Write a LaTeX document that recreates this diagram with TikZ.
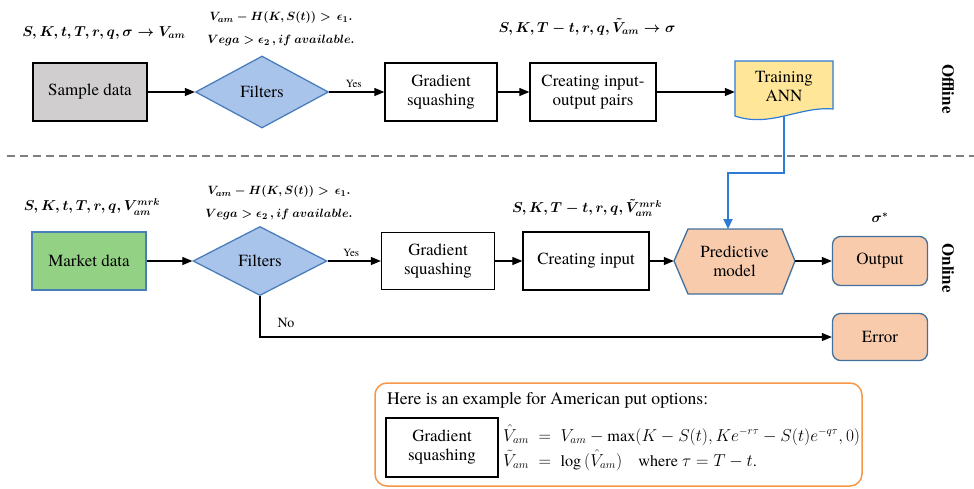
\documentclass[tikz,border=0pt]{standalone}
\usepackage{fontspec}
\setmainfont{TeX Gyre Termes}
\newfontfamily\tnr{TeX Gyre Termes}
\usetikzlibrary{arrows.meta,shapes.geometric}
\definecolor{grayfill}{HTML}{D0CECE}
\definecolor{dfill}{HTML}{A9C4EB}
\definecolor{dborder}{HTML}{4A7EBB}
\definecolor{greenfill}{HTML}{93D284}
\definecolor{yfill}{HTML}{FFE699}
\definecolor{peach}{HTML}{F8CBAD}
\definecolor{pborder}{HTML}{41719C}
\definecolor{oframe}{HTML}{F79646}
\definecolor{bconn}{HTML}{2E7BD6}
\definecolor{dashgray}{HTML}{7F7F7F}
\tikzset{
  txt/.style={font=\tnr\fontsize{17}{19}\selectfont, align=center, inner sep=0pt},
  plainbox/.style={txt, draw=black, fill=white, line width=1.3pt},
  graybox/.style={txt, draw=black, fill=grayfill, line width=1.3pt},
  greenbox/.style={txt, draw=dborder, fill=greenfill, line width=1.3pt},
  filt/.style={txt, diamond, draw=dborder, fill=dfill, line width=1.3pt, minimum width=133, minimum height=72},
  peachbox/.style={txt, draw=pborder, fill=peach, line width=1.3pt, rounded corners=8pt},
  arr/.style={line width=1.2pt, -{Triangle[length=10pt,width=8pt]}},
  barr/.style={draw=bconn, line width=2pt, -{Triangle[length=10pt,width=9pt]}, color=bconn},
  mlab/.style={font=\fontsize{14}{17}\selectfont\boldmath, inner sep=0pt, align=center},
  clab/.style={font=\fontsize{12.5}{23}\selectfont\boldmath, inner sep=0pt, align=center},
  side/.style={font=\tnr\fontsize{17}{19}\selectfont\bfseries, rotate=-90, inner sep=0pt},
  small/.style={font=\tnr\fontsize{11}{12}\selectfont, inner sep=0pt}
}
\begin{document}
\begin{tikzpicture}[x=1pt,y=-1pt]
\useasboundingbox (0,0) rectangle (974,488);
% dashed divider
\draw[dashgray, line width=1.2pt, dash pattern=on 8pt off 5pt] (7,156) -- (974,156);

% ---------- Offline row ----------
\node[graybox, minimum width=114, minimum height=58] (sd) at (90,92) {Sample data};
\node[filt] (f1) at (262,92) {Filters};
\node[plainbox, minimum width=112, minimum height=58] (gs1) at (441,92) {Gradient\\squashing};
\node[plainbox, minimum width=126, minimum height=58] (ci1) at (593,92) {Creating input-\\output pairs};
\filldraw[draw=bconn, fill=yfill, line width=1.2pt] (735,61) -- (833,61) -- (833,109) .. controls (800,106) and (770,128) .. (735,116) -- cycle;
\node[txt, minimum width=98, minimum height=50] (tr) at (784,86) {Training\\ANN};
\coordinate (trb) at (784,116);

\draw[arr] (sd.east) -- (f1.west);
\draw[arr] (f1.east) -- node[small, above=4pt, xshift=-3pt] (yes1) {Yes} (gs1.west);
\draw[arr] (gs1.east) -- (ci1.west);
\draw[arr] (ci1.east) -- (ci1.east -| tr.west);

\node[mlab] (l1) at (104,33) {$S,K,t,T,r,q,\sigma\rightarrow V_{am}$};
\node[clab] (c1) at (281,29) {$V_{am}-H\big(K,S(t)\big)>\,\epsilon_1.$\\$Vega>\epsilon_2\,,if\ available.$};
\node[mlab] (l3) at (587,27) {$S,K,T-t,r,q,\tilde V_{am}\rightarrow\sigma$};
\node[side] (off) at (948,89) {Offline};

% ---------- Online row ----------
\node[greenbox, minimum width=114, minimum height=58] (md) at (89,261) {Market data};
\node[filt, minimum width=134, minimum height=69] (f2) at (260,261) {Filters};
\node[plainbox, minimum width=113, minimum height=57] (gs2) at (438,261) {Gradient\\squashing};
\node[plainbox, minimum width=126, minimum height=58] (ci2) at (586,261) {Creating input};
\fill[peach] (674,261) -- (688,229) -- (782,229) -- (795,261) -- (782,294) -- (688,294) -- cycle;
\draw[pborder, line width=1.3pt] (674,261) -- (688,229) -- (782,229) -- (795,261) -- (782,294) -- (688,294) -- cycle;
\node[txt, minimum width=121, minimum height=65] (pm) at (734.5,261) {Predictive\\model};
\node[peachbox, minimum width=95, minimum height=49] (out) at (880,261) {Output};
\node[peachbox, minimum width=95, minimum height=47] (err) at (880,337) {Error};

\draw[arr] (md.east) -- (f2.west);
\draw[arr] (f2.east) -- node[small, above=4pt, xshift=-3pt] (yes2) {Yes} (gs2.west);
\draw[arr] (gs2.east) -- (ci2.west);
\draw[arr] (ci2.east) -- (pm.west);
\draw[arr] (pm.east) -- (out.west);
\draw[arr] (f2.south) |- (err.west);
\node[font=\tnr\fontsize{14}{16}\selectfont, inner sep=0pt] (no) at (286,323) {No};

\coordinate (bend) at (728,173);
\coordinate (pmtop) at (728,229);
\draw[barr] (trb) |- (bend) -- (pmtop);

\node[mlab] (l4) at (92,207) {$S,K,t,T,r,q,V_{am}^{mrk}$};
\node[clab] (c2) at (279,203) {$V_{am}-H\big(K,S(t)\big)>\,\epsilon_1.$\\$Vega>\epsilon_2\,,if\ available.$};
\node[mlab] (l5) at (587,208) {$S,K,T-t,r,q,\tilde V_{am}^{mrk}$};
\node[mlab] (sig) at (880,218) {$\sigma^{*}$};
\node[side] (on) at (948,268) {Online};

% ---------- Example box ----------
\draw[oframe, line width=1.5pt, rounded corners=12pt] (375,383) rectangle (862,486);
\node[txt, font=\tnr\fontsize{17.6}{19}\selectfont, anchor=west] (ex) at (387,400) {Here is an example for American put options:};
\node[plainbox, minimum width=112, minimum height=59] (gs3) at (442,447.5) {Gradient\\squashing};
\node[font=\tnr\fontsize{16.2}{18}\selectfont, inner sep=0pt, anchor=west] (eq1) at (503,435) {$\hat V_{am}\;=\;V_{am}-\max(K-S(t),Ke^{-r\tau}-S(t)e^{-q\tau},0)$};
\node[font=\tnr\fontsize{16.2}{18}\selectfont, inner sep=0pt, anchor=west] (eq2) at (503,460) {$\tilde V_{am}\;=\;\log\big(\hat V_{am}\big)$\quad where $\tau=T-t$.};
\end{tikzpicture}
\end{document}
